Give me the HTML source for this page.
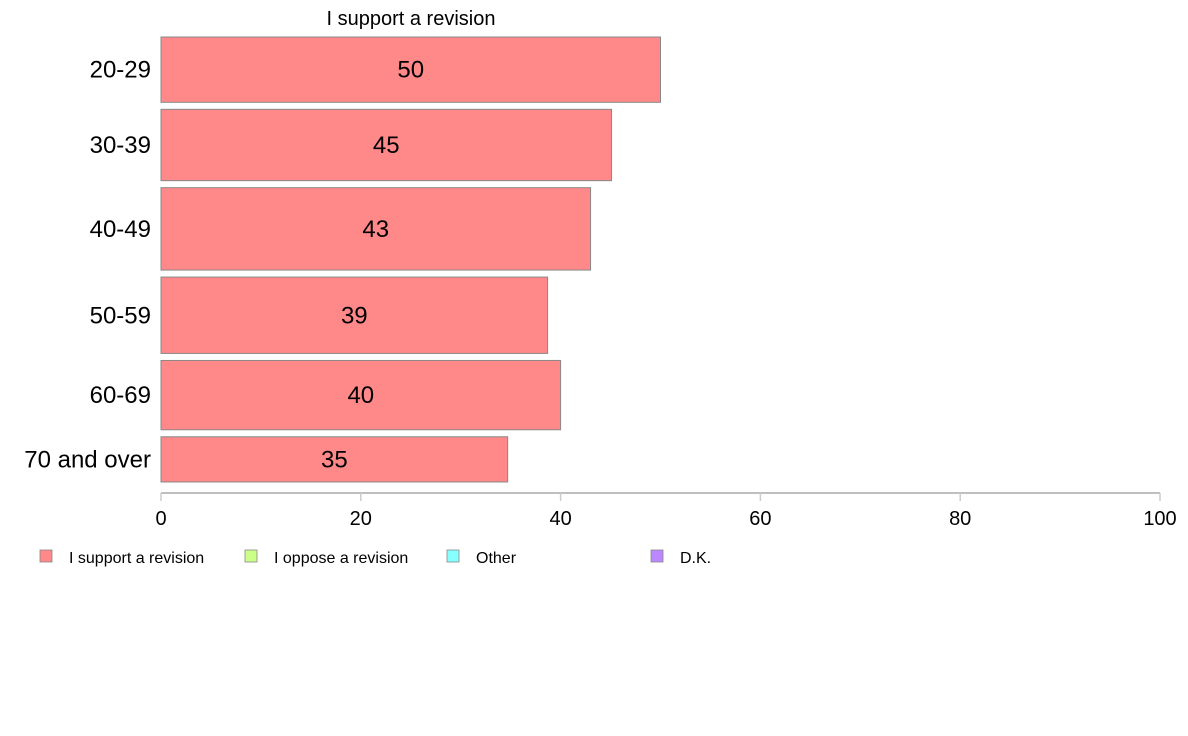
<!DOCTYPE html>
<html><head><meta charset="utf-8"><style>
body{margin:0;background:#fff;width:1188px;height:736px;overflow:hidden}
svg{display:block;font-family:"Liberation Sans",Arial,sans-serif}
</style></head><body>
<svg id="chart" width="1188" height="736">
<text x="411" y="25" font-size="20" text-anchor="middle">I support a revision</text>
<g id="bars"></g>
<g id="axis"></g>
<g id="legend"></g>
</svg>
<script>
const categories = ["20-29","30-39","40-49","50-59","60-69","70 and over"];
const values = [50, 45.1, 43, 38.7, 40, 34.7];
const labels = ["50","45","43","39","40","35"];
const weights = [65, 71, 82, 76, 69, 45];
const ticks = [0,20,40,60,80,100];
const legendNames = ["I support a revision","I oppose a revision","Other","D.K."];
const legendColors = ["#ff8888","#ccff88","#88ffff","#bb88ff"];

const NS="http://www.w3.org/2000/svg";
function mk(tag, attrs, parent){const e=document.createElementNS(NS,tag);for(const k in attrs)e.setAttribute(k,attrs[k]);parent.appendChild(e);return e;}
const x0=161, x1=1160, yTop=37, yBot=482, gap=7;
const xs=v=>x0+(v/100)*(x1-x0);
const totW=weights.reduce((a,b)=>a+b,0);
const avail=(yBot-yTop)-gap*(categories.length-1);
const bars=document.getElementById('bars');
let y=yTop;
categories.forEach((c,i)=>{
  const h=weights[i]/totW*avail;
  const r=mk('rect',{x:x0,y:y,width:xs(values[i])-x0,height:h,fill:"#ff8888",stroke:"#888","stroke-width":1},bars);
  
  
  const t=mk('text',{x:(x0+xs(values[i]))/2,y:y+h/2+8,"font-size":24,"text-anchor":"middle"},bars);
  t.textContent=labels[i];
  
  
  const l=mk('text',{x:151,y:y+h/2+8,"font-size":24,"text-anchor":"end"},bars);
  l.textContent=c;
  
  
  y+=h+gap;
});
const axis=document.getElementById('axis');
const al=mk('line',{x1:x0,x2:x1,y1:493,y2:493,stroke:"#aaa","stroke-width":1.5},axis);


ticks.forEach(v=>{
  const tl=mk('line',{x1:xs(v),x2:xs(v),y1:493,y2:501,stroke:"#ccc","stroke-width":1.5},axis);
  
  
  const tt=mk('text',{x:xs(v),y:525,"font-size":20,"text-anchor":"middle"},axis);
  tt.textContent=v;
  
  
});
const legX=[40,245,447,651];
const leg=document.getElementById('legend');
legendNames.forEach((n,i)=>{
  const r=mk('rect',{x:legX[i],y:550,width:12,height:12,fill:legendColors[i],stroke:"#888","stroke-width":0.8},leg);
  
  
  const t=mk('text',{x:legX[i]+29,y:563,"font-size":16},leg);
  t.textContent=n;
  
  
});
</script>
</body></html>
